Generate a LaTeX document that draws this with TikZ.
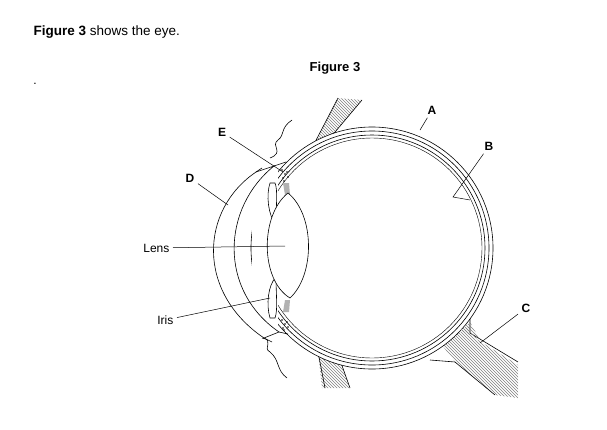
\documentclass[tikz,border=0pt]{standalone}
\usepackage{fontspec}
\setmainfont{Liberation Sans}
\usetikzlibrary{patterns}
\begin{document}
\begin{tikzpicture}[x=1pt,y=-1pt,line width=0.6pt,
  lab/.style={font=\fontsize{12}{14}\selectfont\bfseries},
  txt/.style={font=\fontsize{12}{14}\selectfont},
  lead/.style={line width=0.5pt},
  hat/.style={pattern=north west lines,pattern color=gray}]
\useasboundingbox (0,0) rectangle (607,429);
\node[anchor=west,font=\fontsize{13.5}{16}\selectfont] (t) at (30,32) {\textbf{Figure 3} shows the eye.};
\node[font=\fontsize{13}{16}\selectfont\bfseries] (f) at (335,68) {Figure 3};
\node[txt] (dot) at (35,84) {.};
% muscles
\fill[hat] (338,98) -- (362,100) -- (330,138) -- (312,148) -- cycle;
\draw (338,98) -- (312,148) (362,100) -- (330,138);
\fill[hat] (318,352) -- (340,360) -- (350,388) -- (322,388) -- cycle;
\draw (318,352) -- (325,388) (340,360) -- (350,388);
% optic nerve
\fill[hat] (442,345) -- (470,325) -- (470,335) -- (518,365) -- (518,398) -- (495,395) -- (455,362) -- cycle;
\draw (470,318) -- (470,333) -- (518,362);
\draw (430,360) -- (455,362) -- (495,395);
% eyeball
\draw[fill=white] (372,248) circle (121);
\draw (372,248) circle (117);
\draw (372,248) circle (113);
\draw[line width=0.4pt] (372,248) circle (110);
\fill[white] (252,162) rectangle (278,336);
\fill[hat] (460,330) -- (480,340) -- (470,322) -- cycle;
% cornea
\draw[fill=white] (256,172) .. controls (200,210) and (196,292) .. (264,338)
  -- (279,332) .. controls (218,290) and (222,208) .. (274,166) -- cycle;
% sclera joining lines
\draw (274,166) -- (286,162) (256,172) -- (262,168);
\draw (264,338) -- (272,342) (279,332) -- (288,334);
% iris
\draw[fill=white] (270,183) .. controls (266,195) and (268,215) .. (276,225) .. controls (276,205) and (278,190) .. (275,183) -- cycle;
\draw[fill=white] (270,318) .. controls (266,305) and (268,285) .. (276,277) .. controls (276,295) and (278,310) .. (275,318) -- cycle;
% ciliary
\fill[gray!60] (283,183) -- (289,183) -- (290,195) -- (285,195) -- cycle;
\fill[gray!60] (283,312) -- (289,312) -- (290,300) -- (285,300) -- cycle;
\foreach \p in {(282,170),(285,174),(283,178),(287,172),(284,181),(288,177)} \fill \p circle (0.8);
\foreach \p in {(282,320),(285,324),(283,328),(287,322),(284,330),(288,327)} \fill \p circle (0.8);
% lens
\draw[fill=white] (288,193) .. controls (260,215) and (260,280) .. (290,298) .. controls (315,275) and (315,215) .. (288,193) -- cycle;
% eyelid squiggles
\draw (292,120) .. controls (280,128) and (285,135) .. (278,140) .. controls (270,146) and (285,152) .. (270,158);
\draw (262,338) .. controls (275,340) and (262,348) .. (270,352) .. controls (280,360) and (276,370) .. (287,378);
% labels
\node[lab] (A) at (432,110) {A};
\node[lab] (B) at (489,146) {B};
\node[lab] (C) at (526,308) {C};
\node[lab] (D) at (190,178) {D};
\node[lab] (E) at (222,132) {E};
\node[txt,anchor=east] (L) at (173,248) {Lens};
\node[txt,anchor=east] (I) at (177,320) {Iris};
\coordinate (a) at (420,130);
\coordinate (b) at (453,197);
\coordinate (b2) at (470,200);
\coordinate (c) at (480,343);
\coordinate (d) at (228,205);
\coordinate (e) at (283,172);
\coordinate (l) at (285,246);
\coordinate (i) at (270,298);
\draw[lead] (A) -- (a);
\draw[lead] (B) -- (b) -- (b2);
\draw[lead] (C) -- (c);
\draw[lead] (D) -- (d);
\draw[lead] (E) -- (e);
\draw[lead] (L) -- (l);
\draw[lead] (I) -- (i);
\end{tikzpicture}
\end{document}
